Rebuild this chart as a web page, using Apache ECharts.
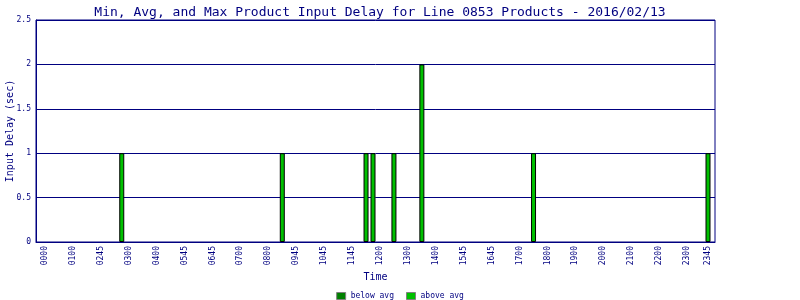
<!DOCTYPE html>
<html>
<head>
<meta charset="utf-8">
<script src="https://cdn.jsdelivr.net/npm/echarts@6/dist/echarts.min.js"></script>
<style>html,body{margin:0;padding:0;background:#fff}#c{width:800px;height:300px}</style>
</head>
<body>
<div id="c"></div>
<script>
var titleText = 'Min, Avg, and Max Product Input Delay for Line 0853 Products - 2016/02/13';
var categories = [
 '0000','0015','0030','0045','0100','0115','0130','0145',
 '0245','0250','0255','0258','0300','0315','0330','0345',
 '0400','0415','0430','0445','0545','0600','0615','0630',
 '0645','0650','0655','0658','0700','0715','0730','0745',
 '0800','0815','0830','0845','0945','1000','1015','1030',
 '1045','1100','1115','1130','1145','1150','1155','1158',
 '1200','1215','1230','1245','1300','1315','1330','1345',
 '1400','1415','1430','1445','1545','1600','1615','1630',
 '1645','1650','1655','1658','1700','1715','1730','1745',
 '1800','1815','1830','1845','1900','1915','1930','1945',
 '2000','2015','2030','2045','2100','2115','2130','2145',
 '2200','2215','2230','2245','2300','2315','2330','2345'
];
var belowAvg = [
 0,0,0,0,0,0,0,0, 0,0,0,0,0,0,0,0,
 0,0,0,0,0,0,0,0, 0,0,0,0,0,0,0,0,
 0,0,0,0,0,0,0,0, 0,0,0,0,0,0,0,0,
 0,0,0,0,0,0,0,0, 0,0,0,0,0,0,0,0,
 0,0,0,0,0,0,0,0, 0,0,0,0,0,0,0,0,
 0,0,0,0,0,0,0,0, 0,0,0,0,0,0,0,0
];
var aboveAvg = [
 0,0,0,0,0,0,0,0, 0,0,0,1,0,0,0,0,
 0,0,0,0,0,0,0,0, 0,0,0,0,0,0,0,0,
 0,0,1,0,0,0,0,0, 0,0,0,0,0,0,1,1,
 0,0,1,0,0,0,2,0, 0,0,0,0,0,0,0,0,
 0,0,0,0,0,0,1,0, 0,0,0,0,0,0,0,0,
 0,0,0,0,0,0,0,0, 0,0,0,0,0,0,0,1
];
var yTicks = {min: 0, max: 2.5, interval: 0.5};

var NAVY = '#000080';
var FONT = 'DejaVu Sans Mono';
function nz(a){ return a.map(function(v){ return v === 0 ? null : v; }); }

var chart = echarts.init(document.getElementById('c'), null, {renderer: 'canvas'});
chart.setOption({
  animation: false,
  backgroundColor: '#ffffff',
  title: {
    text: titleText, left: 375, top: 1, textAlign: 'center',
    textStyle: {color: NAVY, fontFamily: FONT, fontSize: 13, fontWeight: 'normal'}
  },
  legend: {
    top: 287, left: 'center',
    itemWidth: 9, itemHeight: 7, itemGap: 12,
    icon: 'rect',
    itemStyle: {borderColor: '#808080', borderWidth: 1},
    textStyle: {color: NAVY, fontFamily: FONT, fontSize: 8},
    data: ['below avg', 'above avg']
  },
  grid: [
    {left: 36, right: 85, top: 20, bottom: 58, show: true, borderColor: NAVY, borderWidth: 1,
     backgroundColor: 'transparent', containLabel: false, outerBoundsMode: 'none'},
    {left: 41.5, right: 88.5, top: 20, bottom: 58, containLabel: false, outerBoundsMode: 'none'}
  ],
  xAxis: [
    {gridIndex: 0, type: 'value', min: 0, max: 1, show: true,
     axisLine: {show: true, lineStyle: {color: NAVY}}, axisTick: {show: false},
     axisLabel: {show: false}, splitLine: {show: false},
     name: 'Time', nameLocation: 'middle', nameGap: 30, nameMoveOverlap: false,
     nameTextStyle: {color: NAVY, fontFamily: FONT, fontSize: 10}},
    {gridIndex: 1, type: 'category', data: categories, boundaryGap: true,
     axisLine: {show: false}, axisTick: {show: false},
     axisLabel: {
       rotate: 90, margin: 4, color: NAVY, fontFamily: FONT, fontSize: 8,
       interval: function(i){ return i % 4 === 0 || i === categories.length - 1; }
     },
     splitLine: {show: false}}
  ],
  yAxis: [
    {gridIndex: 0, type: 'value', min: yTicks.min, max: yTicks.max, interval: yTicks.interval,
     axisLine: {show: true, lineStyle: {color: NAVY}}, axisTick: {show: false},
     axisLabel: {color: NAVY, fontFamily: FONT, fontSize: 8, margin: 5},
     splitLine: {show: true, lineStyle: {color: NAVY, width: 1}},
     name: 'Input Delay (sec)', nameLocation: 'middle', nameGap: 21, nameMoveOverlap: false,
     nameTextStyle: {color: NAVY, fontFamily: FONT, fontSize: 10}},
    {gridIndex: 1, type: 'value', min: yTicks.min, max: yTicks.max, interval: yTicks.interval, show: false,
     splitLine: {show: false}}
  ],
  series: [
    {name: 'below avg', type: 'bar', xAxisIndex: 1, yAxisIndex: 1, stack: 'd',
     barWidth: 5, data: nz(belowAvg),
     itemStyle: {color: '#008000', borderColor: '#000000', borderWidth: 1}},
    {name: 'above avg', type: 'bar', xAxisIndex: 1, yAxisIndex: 1, stack: 'd',
     barWidth: 5, data: nz(aboveAvg),
     itemStyle: {color: '#00c000', borderColor: '#000000', borderWidth: 1}}
  ]
});
</script>
</body>
</html>
